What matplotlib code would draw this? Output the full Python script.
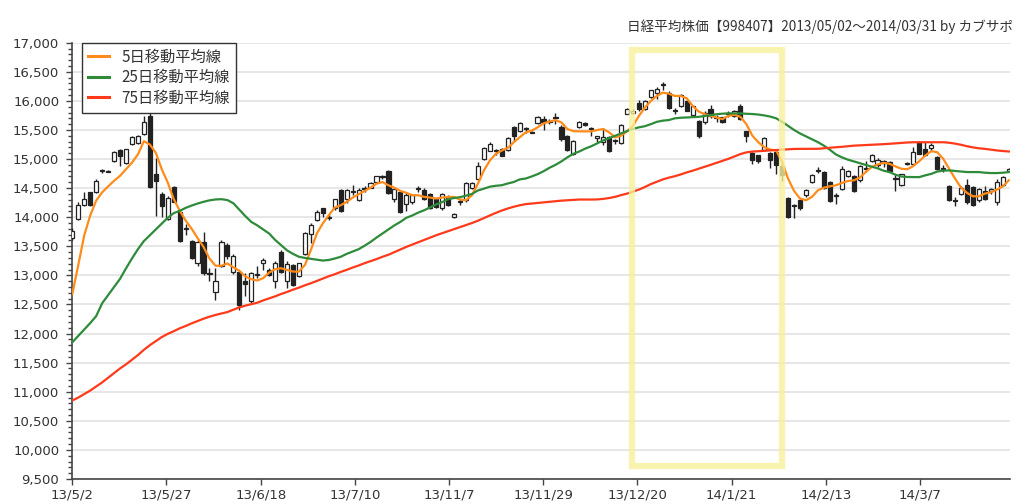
import matplotlib
matplotlib.use("Agg")
import matplotlib.pyplot as plt
from matplotlib.patches import Rectangle
from matplotlib.ticker import MultipleLocator, FuncFormatter
import numpy as np

plt.rcParams['font.family'] = ['DejaVu Sans', 'Noto Sans CJK JP']

title = "日経平均株価【998407】2013/05/02～2014/03/31 by カブサポ"
tick_labels = ["13/5/2", "13/5/27", "13/6/18", "13/7/10", "13/11/7", "13/11/29",
               "13/12/20", "14/1/21", "14/2/13", "14/3/7"]
legend_labels = ["5日移動平均線", "25日移動平均線", "75日移動平均線"]

opens = [13640, 13972, 14210, 14427, 14438, 14790, 14800, 14966, 15154, 14938,
         15267, 15279, 15438, 15745, 14739, 14398, 13961, 14523, 14086, 13810,
         13586, 13206, 13575, 13040, 12722, 13166, 13530, 13050, 13050, 12900,
         12555, 13010, 13210, 13095, 12900, 13410, 12910, 13180, 12990, 13370,
         13720, 13950, 14150, 14000, 14150, 14475, 14305, 14450, 14295, 14490,
         14510, 14600, 14705, 14795, 14320, 14435, 14235, 14265, 14500, 14463,
         14406, 14320, 14150, 14350, 14000, 14270, 14292, 14510, 14662, 15000,
         15145, 15140, 15175, 15157, 15544, 15487, 15520, 15470, 15612, 15680,
         15650, 15720, 15556, 15400, 15089, 15544, 15620, 15520, 15370, 15290,
         15385, 15320, 15271, 15780, 15800, 15970, 15857, 16068, 16140, 16285,
         16140, 15835, 15915, 16000, 15760, 15658, 15630, 15857, 15720, 15715,
         15790, 15743, 15914, 15477, 15101, 15061, 15158, 15101, 15118, 14880,
         14337, 14215, 14290, 14377, 14605, 14810, 14776, 14600, 14380, 14491,
         14702, 14702, 14633, 14835, 14964, 14890, 14950, 14947, 14665, 14548,
         14925, 14919, 15290, 15175, 15192, 15033, 14840, 14531, 14295, 14405,
         14548, 14520, 14292, 14451, 14450, 14263, 14548, 14790]
closes = [13757, 14211, 14313, 14210, 14626, 14800, 14785, 15120, 15052, 15165,
          15380, 15404, 15631, 14512, 14626, 14199, 14324, 14268, 13597, 13790,
          13291, 13575, 13035, 13020, 12900, 13570, 13336, 13330, 12496, 12860,
          13040, 13000, 13270, 13010, 13220, 13065, 13200, 12840, 13210, 13735,
          13870, 14095, 14065, 13980, 14305, 14110, 14475, 14440, 14475, 14480,
          14590, 14700, 14690, 14420, 14490, 14095, 14390, 14380, 14480, 14320,
          14150, 14180, 14406, 14207, 14060, 14260, 14589, 14589, 14873, 15190,
          15260, 15130, 15060, 15362, 15400, 15612, 15510, 15450, 15726, 15640,
          15640, 15710, 15345, 15148, 15310, 15645, 15580, 15510, 15370, 15385,
          15135, 15310, 15590, 15855, 15830, 15857, 16000, 16180, 16200, 16275,
          15885, 15825, 16100, 15830, 15914, 15400, 15800, 15743, 15710, 15630,
          15780, 15830, 15686, 15390, 14976, 14964, 15363, 14976, 14890, 14720,
          14007, 14200, 14150, 14474, 14719, 14800, 14508, 14280, 14370, 14833,
          14793, 14451, 14873, 14825, 15078, 14976, 14940, 14800, 14655, 14736,
          14915, 15118, 15090, 15061, 15250, 14833, 14830, 14292, 14285, 14508,
          14263, 14206, 14491, 14320, 14480, 14605, 14690, 14830]
highs = [13810, 14256, 14438, 14438, 14654, 14824, 14820, 15140, 15165, 15176,
         15392, 15420, 15733, 15932, 15023, 14430, 14370, 14540, 14114, 13880,
         13600, 13600, 13745, 13120, 13132, 13600, 13550, 13360, 13066, 13040,
         13050, 13170, 13300, 13120, 13240, 13440, 13240, 13200, 13220, 13750,
         13900, 14120, 14165, 14050, 14318, 14490, 14490, 14550, 14510, 14545,
         14605, 14710, 14730, 14815, 14505, 14450, 14420, 14406, 14530, 14510,
         14420, 14330, 14420, 14380, 14080, 14310, 14600, 14606, 14947, 15210,
         15288, 15175, 15190, 15385, 15572, 15630, 15555, 15480, 15740, 15740,
         15690, 15800, 15590, 15420, 15330, 15660, 15640, 15555, 15385, 15530,
         15400, 15345, 15600, 15870, 15860, 16010, 16010, 16195, 16230, 16330,
         16170, 15885, 16110, 16010, 15930, 15670, 15830, 15930, 15760, 15730,
         15830, 15840, 15950, 15490, 15118, 15070, 15380, 15118, 15147, 14950,
         14350, 14230, 14300, 14490, 14736, 14862, 14790, 14620, 14420, 14873,
         14816, 14720, 14890, 14965, 15090, 15020, 14976, 14964, 14720, 14748,
         14950, 15200, 15318, 15290, 15270, 15045, 14890, 14548, 14350, 14531,
         14662, 14531, 14508, 14531, 14510, 14662, 14702, 14850]
lows = [13610, 13960, 14188, 14200, 14420, 14756, 14770, 14950, 14881, 14910,
        15250, 15265, 15420, 14495, 14029, 13999, 13950, 14255, 13575, 13690,
        13280, 13166, 13007, 12900, 12580, 13150, 13290, 13030, 12410, 12640,
        12530, 12950, 13100, 12990, 12780, 13040, 12780, 12820, 12980, 13350,
        13550, 13930, 14010, 13960, 14130, 14095, 14240, 14380, 14285, 14430,
        14495, 14590, 14660, 14400, 14265, 14080, 14110, 14235, 14435, 14300,
        14135, 14165, 14120, 14190, 13980, 14210, 14265, 14490, 14645, 14980,
        15130, 15075, 15045, 15145, 15316, 15460, 15445, 15440, 15600, 15500,
        15600, 15610, 15316, 15130, 15075, 15530, 15570, 15400, 15290, 15250,
        15120, 15260, 15260, 15770, 15780, 15830, 15845, 16055, 16030, 16180,
        15860, 15770, 15900, 15820, 15740, 15360, 15610, 15700, 15630, 15620,
        15720, 15730, 15670, 15290, 14919, 14940, 15140, 14850, 14750, 14620,
        13995, 13980, 14130, 14350, 14590, 14760, 14490, 14263, 14235, 14474,
        14690, 14434, 14605, 14776, 14947, 14862, 14862, 14780, 14450, 14530,
        14890, 14907, 15079, 15045, 15135, 14816, 14776, 14280, 14190, 14390,
        14235, 14190, 14263, 14303, 14400, 14206, 14531, 14770]

ma5 = [12680, 13177, 13688, 14029, 14285, 14427, 14529, 14626, 14711, 14824,
       14938, 15080, 15307, 15250, 15108, 14824, 14597, 14313, 14114, 13944,
       13802, 13643, 13490, 13290, 13166, 13166, 13206, 13140, 13080, 12981,
       12935, 12912, 12952, 13049, 13106, 13123, 13094, 13066, 13066, 13180,
       13437, 13722, 13893, 14035, 14166, 14206, 14263, 14337, 14394, 14451,
       14508, 14577, 14605, 14548, 14508, 14451, 14420, 14378, 14378, 14349,
       14338, 14321, 14338, 14349, 14349, 14304, 14292, 14378, 14577, 14804,
       14975, 15089, 15146, 15191, 15288, 15373, 15459, 15487, 15544, 15612,
       15646, 15669, 15629, 15516, 15480, 15476, 15476, 15476, 15499, 15516,
       15459, 15373, 15402, 15476, 15573, 15743, 15885, 15999, 16085, 16142,
       16124, 16085, 16085, 16045, 15914, 15817, 15772, 15743, 15715, 15686,
       15743, 15760, 15726, 15600, 15403, 15289, 15204, 15164, 15147, 14947,
       14662, 14451, 14320, 14292, 14349, 14463, 14508, 14531, 14548, 14588,
       14622, 14634, 14679, 14776, 14862, 14907, 14935, 14919, 14873, 14833,
       14825, 14880, 14964, 15061, 15135, 15118, 15004, 14833, 14662, 14508,
       14417, 14360, 14360, 14406, 14428, 14474, 14531, 14634]
ma25 = [11850, 11960, 12070, 12180, 12300, 12520, 12660, 12800, 12940, 13120,
        13290, 13450, 13590, 13690, 13790, 13890, 13990, 14070, 14110, 14160,
        14200, 14235, 14265, 14290, 14305, 14310, 14295, 14240, 14130, 14020,
        13920, 13860, 13790, 13720, 13610, 13520, 13430, 13370, 13320, 13300,
        13285, 13270, 13255, 13265, 13290, 13320, 13370, 13410, 13450, 13510,
        13575, 13650, 13720, 13790, 13860, 13920, 13990, 14030, 14080, 14120,
        14170, 14220, 14260, 14310, 14330, 14345, 14370, 14400, 14460, 14490,
        14525, 14540, 14550, 14580, 14605, 14650, 14665, 14700, 14740, 14790,
        14850, 14900, 14960, 15030, 15090, 15130, 15180, 15220, 15270, 15320,
        15360, 15400, 15440, 15480, 15520, 15545, 15565, 15600, 15640, 15660,
        15670, 15700, 15710, 15715, 15720, 15725, 15740, 15755, 15770, 15780,
        15785, 15785, 15785, 15778, 15774, 15765, 15750, 15730, 15700, 15640,
        15570, 15500, 15440, 15390, 15340, 15290, 15230, 15160, 15080, 15030,
        14990, 14960, 14930, 14900, 14870, 14840, 14800, 14776, 14730, 14700,
        14692, 14690, 14690, 14720, 14745, 14785, 14800, 14805, 14795, 14785,
        14776, 14776, 14776, 14765, 14759, 14759, 14765, 14776]
ma75 = [10850, 10900, 10960, 11020, 11090, 11160, 11240, 11320, 11400, 11470,
        11550, 11630, 11720, 11800, 11870, 11940, 11995, 12040, 12090, 12130,
        12175, 12215, 12255, 12290, 12320, 12345, 12370, 12410, 12450, 12480,
        12505, 12530, 12570, 12605, 12640, 12680, 12715, 12755, 12790, 12830,
        12865, 12905, 12945, 12985, 13020, 13060, 13095, 13135, 13170, 13210,
        13245, 13280, 13320, 13355, 13400, 13445, 13490, 13530, 13570, 13610,
        13650, 13690, 13725, 13760, 13795, 13830, 13865, 13900, 13940, 13985,
        14030, 14075, 14115, 14150, 14180, 14205, 14225, 14235, 14245, 14255,
        14265, 14275, 14285, 14292, 14298, 14304, 14304, 14304, 14306, 14315,
        14330, 14350, 14380, 14406, 14440, 14475, 14520, 14570, 14610, 14650,
        14680, 14705, 14735, 14770, 14800, 14833, 14865, 14900, 14935, 14970,
        15004, 15045, 15085, 15115, 15128, 15135, 15142, 15150, 15157, 15162,
        15168, 15173, 15175, 15175, 15175, 15176, 15185, 15195, 15203, 15210,
        15220, 15230, 15235, 15240, 15245, 15249, 15256, 15262, 15270, 15278,
        15285, 15289, 15289, 15289, 15289, 15289, 15289, 15280, 15265, 15245,
        15220, 15200, 15185, 15175, 15162, 15148, 15138, 15130]

W, H = 1024, 504
fig = plt.figure(figsize=(W / 100, H / 100), dpi=100)
L, R, T, B = 71.7, 1010, 42.7, 479
ax = fig.add_axes([L / W, 1 - B / H, (R - L) / W, (B - T) / H])

n = len(closes)
x = np.arange(n)
o = np.array(opens); c = np.array(closes)
hi = np.array(highs); lo = np.array(lows)

ax.vlines(x, lo, hi, color='#222222', lw=1.0, zorder=3)
bottoms = np.minimum(o, c)
heights = np.maximum(np.abs(c - o), 18)
up = c >= o
ax.bar(x[up], heights[up], bottom=bottoms[up], width=0.7, facecolor='white',
       edgecolor='#222222', linewidth=0.9, zorder=4)
ax.bar(x[~up], heights[~up], bottom=bottoms[~up], width=0.7, facecolor='#222222',
       edgecolor='#222222', linewidth=0.9, zorder=4)

l1, = ax.plot(x, ma5, color='#ff8c1a', lw=1.6, zorder=5)
l2, = ax.plot(x, ma25, color='#2e8b3a', lw=1.6, zorder=5)
l3, = ax.plot(x, ma75, color='#ff3a1a', lw=1.6, zorder=5)

ax.set_ylim(9500, 17000)
ax.set_xlim(-0.1, 157.2)
ax.yaxis.set_major_locator(MultipleLocator(500))
ax.yaxis.set_minor_locator(MultipleLocator(100))
ax.yaxis.set_major_formatter(FuncFormatter(lambda v, p: f"{int(v):,}"))
step = 94.2 / ((R - L) / 157.3)
ax.set_xticks([i * step for i in range(len(tick_labels))])
ax.set_xticklabels(tick_labels)
ax.grid(axis='y', color='#e3e3e3', lw=1.2, zorder=0)
ax.set_axisbelow(True)
for s in ['top', 'right']:
    ax.spines[s].set_visible(False)
for s in ['left', 'bottom']:
    ax.spines[s].set_color('#444444')
    ax.spines[s].set_linewidth(1.2)
ax.tick_params(axis='both', which='major', length=4, width=1, color='#444444',
               labelsize=9.5, labelcolor='#333333')
ax.tick_params(axis='y', which='major', pad=5)
ax.tick_params(axis='x', which='major', pad=3)
ax.tick_params(axis='y', which='minor', length=3, width=1, color='#444444')

leg = ax.legend([l1, l2, l3], legend_labels, loc='upper left',
                bbox_to_anchor=(0.0107, 1.0), borderaxespad=0, fancybox=False,
                framealpha=1, edgecolor='#333333', handlelength=1.4,
                prop={'family': ['Noto Sans CJK JP'], 'size': 11},
                labelspacing=0.22, borderpad=0.4, handletextpad=0.8)
leg.get_frame().set_linewidth(1.0)
for t in leg.get_texts():
    t.set_color('#333333')
for h in leg.get_lines():
    h.set_linewidth(2.2)

rect = Rectangle((0.597, 0.030), 0.16, 0.953, transform=ax.transAxes, fill=False,
                 edgecolor='#f7f09a', lw=4.5, alpha=0.8, zorder=6, clip_on=False)
ax.add_patch(rect)

fig.text(1013 / W, 1 - 27 / H, title, ha='right', va='center', fontsize=9.8,
         color='#333333', family=['Noto Sans CJK JP', 'DejaVu Sans'])

fig.savefig('out.png', dpi=100, facecolor='white')
